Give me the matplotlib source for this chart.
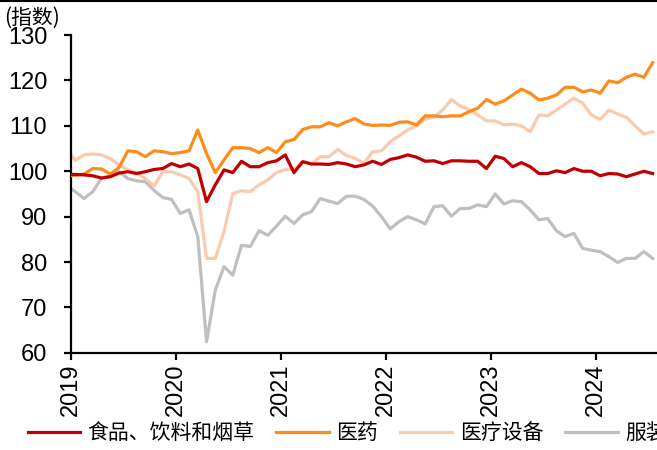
import numpy as np
import matplotlib
matplotlib.use("Agg")
import matplotlib.pyplot as plt

plt.rcParams['font.family'] = ['Liberation Sans', 'Noto Sans CJK SC', 'DejaVu Sans']

# monthly index, Dec 2018 .. Jul 2024 (first point sits just left of the axis)
years = ["2019", "2020", "2021", "2022", "2023", "2024"]

food = [99.3, 99.3, 99.2, 99.0, 98.5, 98.8, 99.6, 99.9, 99.5, 99.9, 100.4, 100.6, 101.7,
        101.0, 101.6, 100.6, 93.3, 97.0, 100.3, 99.7, 102.2, 101.0, 101.0, 101.9, 102.3,
        103.6, 99.7, 102.1, 101.6, 101.6, 101.5, 101.9, 101.6, 101.0, 101.4, 102.2, 101.5,
        102.6, 103.0, 103.6, 103.1, 102.2, 102.3, 101.7, 102.3, 102.3, 102.2, 102.2, 100.6,
        103.3, 102.8, 101.0, 101.9, 101.0, 99.5, 99.5, 100.1, 99.7, 100.6, 100.0, 100.0,
        99.0, 99.5, 99.4, 98.8, 99.4, 100.0, 99.5]

pharma = [99.0, 99.1, 99.4, 100.6, 100.5, 99.4, 100.8, 104.5, 104.3, 103.2, 104.5, 104.3, 103.9,
          104.1, 104.5, 109.1, 103.9, 99.7, 102.5, 105.2, 105.2, 105.0, 104.1, 105.2, 104.1,
          106.5, 107.0, 109.2, 109.8, 109.8, 110.7, 110.0, 110.9, 111.6, 110.4, 110.1, 110.2,
          110.1, 110.8, 110.9, 110.2, 112.2, 112.2, 112.0, 112.2, 112.2, 113.1, 113.9, 115.8,
          114.8, 115.5, 116.8, 118.1, 117.2, 115.7, 116.1, 116.8, 118.5, 118.5, 117.5, 117.9,
          117.2, 119.9, 119.5, 120.7, 121.4, 120.7, 123.9]

medical = [104.8, 102.4, 103.6, 103.8, 103.6, 102.8, 101.4, 100.3, 99.7, 98.4, 96.7, 99.9, 99.9,
           99.2, 98.4, 95.5, 80.8, 80.8, 86.7, 95.1, 95.7, 95.5, 97.0, 98.1, 99.7,
           100.4, 100.4, 102.2, 101.6, 103.2, 103.2, 104.8, 103.5, 102.8, 101.8, 104.3, 104.5,
           106.5, 107.8, 109.1, 110.0, 111.5, 111.9, 113.5, 115.8, 114.4, 113.6, 112.4, 111.1,
           111.1, 110.2, 110.4, 110.0, 108.7, 112.4, 112.2, 113.5, 114.8, 116.1, 115.0, 112.4,
           111.4, 113.5, 112.6, 111.9, 110.0, 108.2, 108.7]

apparel = [96.9, 95.5, 94.0, 95.5, 98.5, 99.0, 99.9, 98.4, 97.9, 97.7, 95.8, 94.2, 93.8,
           90.7, 91.5, 85.6, 62.4, 73.8, 79.0, 77.1, 83.7, 83.4, 86.9, 85.9, 87.9,
           90.1, 88.5, 90.4, 91.1, 94.0, 93.4, 92.9, 94.5, 94.5, 93.8, 92.3, 90.0,
           87.3, 88.9, 90.0, 89.3, 88.4, 92.2, 92.4, 90.1, 91.8, 91.8, 92.6, 92.2,
           95.0, 92.8, 93.5, 93.3, 91.5, 89.3, 89.6, 86.9, 85.6, 86.3, 83.0, 82.6,
           82.3, 81.2, 79.9, 80.8, 80.8, 82.3, 80.8]

x = np.arange(len(food)) - 0.5

fig = plt.figure(figsize=(6.57, 4.5), dpi=100)
ax = fig.add_axes([0.108, 0.216, 0.892, 0.706])

ax.plot(x, apparel, color="#BFBFBF", lw=2.3, label="服装", zorder=1)
ax.plot(x, medical, color="#F8CBAD", lw=2.3, label="医疗设备", zorder=2)
ax.plot(x, pharma, color="#FF8C1A", lw=2.3, label="医药", zorder=3)
ax.plot(x, food, color="#C00000", lw=2.3, label="食品、饮料和烟草", zorder=4)

ax.set_xlim(0, len(food) - 1)
ax.set_ylim(60, 130)
ax.set_yticks(range(60, 131, 10))
ax.set_xticks(range(0, 12 * len(years), 12))
ax.set_xticklabels(years, rotation=90)

for s in ["top", "right"]:
    ax.spines[s].set_visible(False)
for s in ["left", "bottom"]:
    ax.spines[s].set_linewidth(1.6)
ax.tick_params(axis="both", direction="out", length=5, width=1.6, labelsize=17)
ax.tick_params(axis="y", pad=12)
ax.tick_params(axis="x", pad=3)

fig.text(0.006, 0.948, "(指数)", fontsize=15, family=['Noto Sans CJK SC', 'DejaVu Sans'])

# thin rule along the very top edge
fig.add_artist(plt.Line2D([0, 1], [0.998, 0.998], color="black", lw=1.5))

h, l = ax.get_legend_handles_labels()
order = [3, 2, 1, 0]
fig.legend([h[i] for i in order], [l[i] for i in order], ncol=4, frameon=False,
           loc="center left", bbox_to_anchor=(0.042, 0.038), borderpad=0, borderaxespad=0,
           handlelength=2.5, handletextpad=0.38, columnspacing=1.05,
           prop={"family": ['Noto Sans CJK SC', 'DejaVu Sans'], "size": 15})

fig.savefig("out.png", dpi=100)
